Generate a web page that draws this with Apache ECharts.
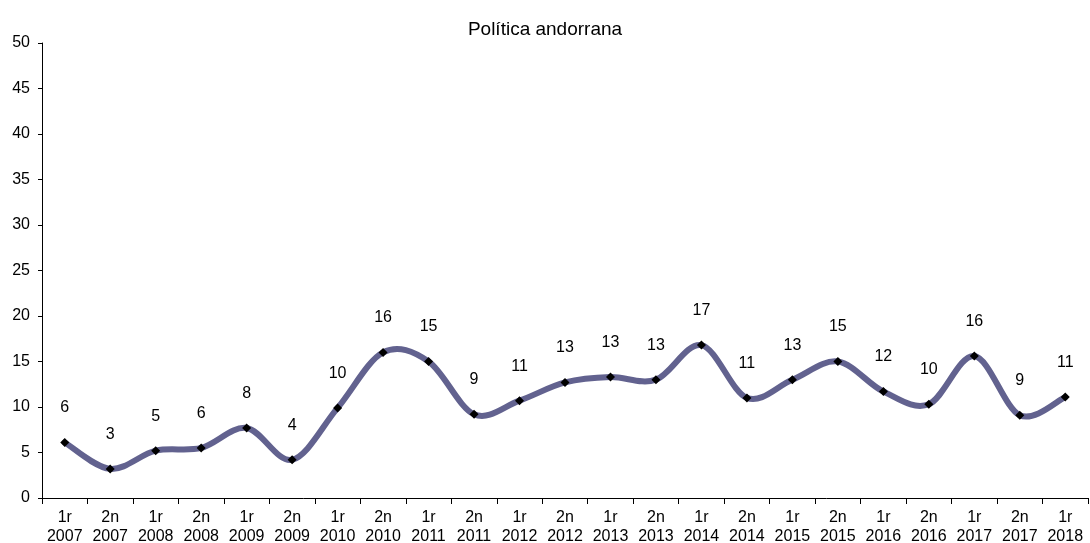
<!DOCTYPE html>
<html><head><meta charset="utf-8">
<script src="https://cdn.jsdelivr.net/npm/echarts@6/dist/echarts.min.js"></script>
<style>html,body{margin:0;padding:0;background:#fff}#c{width:1090px;height:543px}</style>
</head><body><div id="c"></div>
<script>
const categories = ["1r\n2007","2n\n2007","1r\n2008","2n\n2008","1r\n2009","2n\n2009","1r\n2010","2n\n2010","1r\n2011","2n\n2011","1r\n2012","2n\n2012","1r\n2013","2n\n2013","1r\n2014","2n\n2014","1r\n2015","2n\n2015","1r\n2016","2n\n2016","1r\n2017","2n\n2017","1r\n2018"];
const values = [6.1,3.2,5.2,5.5,7.7,4.2,9.9,16.0,15.0,9.2,10.7,12.7,13.3,13.0,16.8,11.0,13.0,15.0,11.7,10.3,15.6,9.1,11.1];
const labels = [6,3,5,6,8,4,10,16,15,9,11,13,13,13,17,11,13,15,12,10,16,9,11];
const yTicks = [0,5,10,15,20,25,30,35,40,45,50];

const chart = echarts.init(document.getElementById('c'));
const font = 'Liberation Sans, Arial, sans-serif';
const n = values.length;
function pt(api, i){ i = Math.max(0, Math.min(n-1, i)); return api.coord([i, values[i]]); }
chart.setOption({
  animation:false,
  title:{text:'Política andorrana',left:'center',top:15,textStyle:{fontFamily:font,fontSize:19,fontWeight:'normal',color:'#000'}},
  grid:{left:42,right:2,top:43,bottom:45,containLabel:false,outerBoundsMode:'none'},
  xAxis:{type:'category',data:categories,boundaryGap:true,
    axisLine:{lineStyle:{color:'#000',width:1}},
    axisTick:{show:true,length:6,lineStyle:{color:'#000'}},
    axisLabel:{color:'#000',fontFamily:font,fontSize:16,lineHeight:19,margin:10,interval:0}},
  yAxis:{type:'value',min:yTicks[0],max:yTicks[yTicks.length-1],interval:5,
    axisLine:{show:true,lineStyle:{color:'#000',width:1}},
    axisTick:{show:true,length:4,lineStyle:{color:'#000'}},
    splitLine:{show:false},
    axisLabel:{color:'#000',fontFamily:font,fontSize:16,margin:12}},
  series:[
    {type:'custom',z:2,silent:true,
      data:values.map((v,i)=>[i,v]),
      encode:{x:0,y:1},
      renderItem:function(params, api){
        const i = params.dataIndex;
        if (i >= n-1) return null;
        const p0 = pt(api,i-1), p1 = pt(api,i), p2 = pt(api,i+1), p3 = pt(api,i+2);
        const k = 1/6;
        return {type:'bezierCurve',
          shape:{x1:p1[0],y1:p1[1],x2:p2[0],y2:p2[1],
            cpx1:p1[0]+(p2[0]-p0[0])*k, cpy1:p1[1]+(p2[1]-p0[1])*k,
            cpx2:p2[0]-(p3[0]-p1[0])*k, cpy2:p2[1]-(p3[1]-p1[1])*k},
          style:{stroke:'#62628f',lineWidth:6,fill:null,lineCap:'round'}};
      }},
    {type:'line',z:3,data:values,
      lineStyle:{width:0,opacity:0},
      symbol:'diamond',symbolSize:9,itemStyle:{color:'#000'},
      label:{show:true,position:'top',distance:22,color:'#000',fontFamily:font,fontSize:16,
        formatter:p=>String(labels[p.dataIndex])}}]
});
</script></body></html>
